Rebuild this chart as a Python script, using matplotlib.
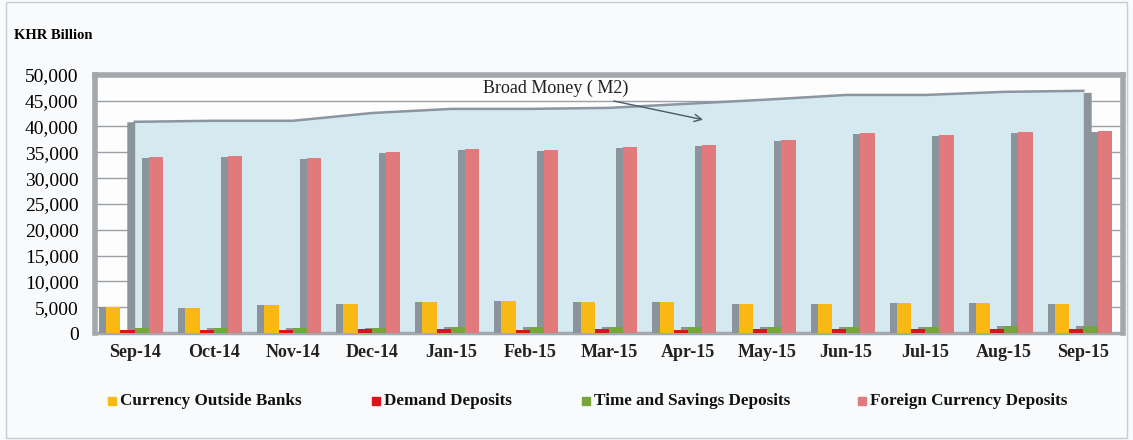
import numpy as np
import matplotlib.pyplot as plt
from matplotlib.patches import Rectangle

months = ['Sep-14', 'Oct-14', 'Nov-14', 'Dec-14', 'Jan-15', 'Feb-15', 'Mar-15',
          'Apr-15', 'May-15', 'Jun-15', 'Jul-15', 'Aug-15', 'Sep-15']
currency = [5000, 4900, 5400, 5600, 6000, 6200, 6000, 6000, 5600, 5600, 5800, 5800, 5600]
demand = [620, 640, 680, 720, 700, 690, 700, 680, 700, 720, 740, 760, 730]
time_sav = [900, 950, 1000, 1050, 1100, 1150, 1150, 1100, 1150, 1200, 1250, 1350, 1400]
foreign = [34100, 34300, 33900, 35100, 35700, 35500, 36000, 36400, 37400, 38800, 38400, 39000, 39100]
broad_money = [40900, 41100, 41100, 42600, 43400, 43400, 43600, 44400, 45200, 46100, 46100, 46700, 46900]

names = ['Currency Outside Banks', 'Demand Deposits', 'Time and Savings Deposits',
         'Foreign Currency Deposits']
colors = ['#f9b914', '#d9141b', '#76a53a', '#e17a7c']
series = [currency, demand, time_sav, foreign]

serif = 'Liberation Serif'
shadow = '#8b949b'

fig = plt.figure(figsize=(11.33, 4.4), dpi=100, facecolor='#f9fafc')
ax = fig.add_axes([0.084, 0.243, 0.907, 0.587])
ax.set_facecolor('#fdfdfd')

x = np.arange(len(months))
ax.set_xlim(-0.5, 12.5)
ax.set_ylim(0, 50000)

for yv in range(5000, 50001, 5000):
    ax.axhline(yv, color='#9aa0a6', lw=1.0, zorder=0)

# broad money area with side shadow
ax.fill_between(x - 0.1, broad_money, color=shadow, zorder=1, lw=0)
ax.fill_between(x + 0.1, np.array(broad_money) - 300, color=shadow, zorder=1, lw=0)
ax.fill_between(x, broad_money, color='#d4e9f0', zorder=2, lw=0)
ax.plot(x, broad_money, color='#8c96a0', lw=1.8, zorder=3)

w = 0.18
offs = [-0.27, -0.09, 0.09, 0.27]
for vals, col, off in zip(series, colors, offs):
    ax.bar(x + off - 0.09, np.array(vals) * 0.995, width=w, color=shadow, zorder=4, lw=0)
for vals, col, off in zip(series, colors, offs):
    ax.bar(x + off, vals, width=w, color=col, zorder=5, lw=0)

ax.annotate('Broad Money ( M2)', xy=(7.19, 41300), xytext=(6.24, 47300),
            fontsize=13, family=serif, color='#222222', ha='right', va='center',
            arrowprops=dict(arrowstyle='->', color='#4d5a66', lw=1.0,
                            shrinkA=3, shrinkB=0), zorder=6)

for side in ['left', 'right', 'top']:
    ax.spines[side].set_color('#a3a8ad')
    ax.spines[side].set_linewidth(4)
ax.spines['bottom'].set_color('#a3a8ad')
ax.spines['bottom'].set_linewidth(2.5)

ax.set_yticks(range(0, 50001, 5000))
ax.set_yticklabels([f'{v:,}' for v in range(0, 50001, 5000)], family=serif, fontsize=14)
ax.set_xticks(x)
ax.set_xticklabels(months, family=serif, fontsize=13, fontweight='bold', color='#222222')
ax.tick_params(length=0)
ax.tick_params(axis='y', pad=12)
ax.tick_params(axis='x', pad=8)

fig.text(0.012, 0.912, 'KHR Billion', family=serif, fontsize=10.5, fontweight='bold')

# legend items placed along the bottom
leg_x = [112, 376, 586, 862]
for px, name, col in zip(leg_x, names, colors):
    fx = px / 1133
    fig.patches.append(Rectangle((fx - 0.0035, 0.0886 - 0.009), 0.007, 0.018,
                                 transform=fig.transFigure, color=col))
    fig.text(fx + 0.0075, 0.0886, name, family=serif, fontsize=12.3,
             fontweight='bold', va='center', ha='left', color='#111111')

fig.patches.append(Rectangle((0.005, 0.005), 0.99, 0.99, transform=fig.transFigure,
                             fill=False, edgecolor='#c8ccd0', lw=1))

fig.savefig('out.png', dpi=100, facecolor=fig.get_facecolor())
